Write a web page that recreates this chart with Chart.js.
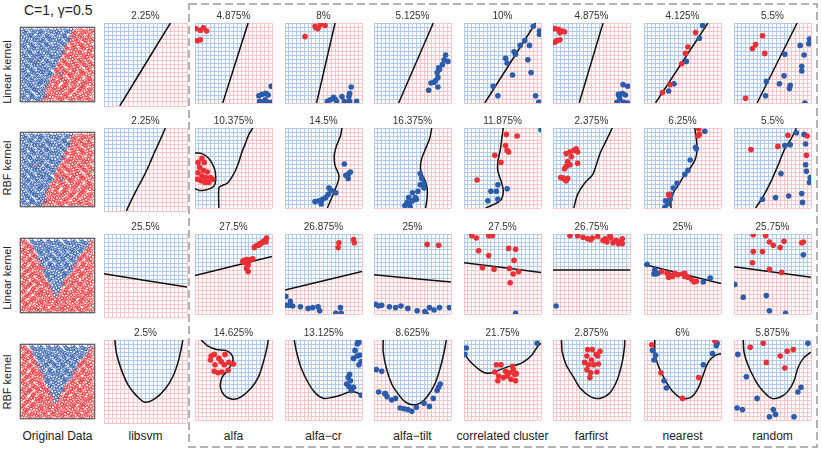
<!DOCTYPE html>
<html>
<head>
<meta charset="utf-8">
<script src="https://cdn.jsdelivr.net/npm/chart.js@4.4.1/dist/chart.umd.min.js"></script>
<style>
  body { margin: 0; width: 822px; height: 449px; position: relative; overflow: hidden; background: #fff;
         font-family: "Liberation Sans", Arial, Helvetica, sans-serif; color: #222; }
  .lbl { position: absolute; font-size: 12px; transform: translateX(-50%); white-space: nowrap; }
  .rowlbl { position: absolute; font-size: 11px; transform: translate(-50%, -50%) rotate(-90deg); white-space: nowrap; }
  .head { position: absolute; left: 24px; top: 2px; font-size: 14px; white-space: nowrap; }
</style>
</head>
<body>
<svg style="position:absolute;left:0;top:0" width="822" height="449">
  <rect x="189" y="4" width="628" height="443" fill="none" stroke="#9a9a9a" stroke-width="1.5" stroke-dasharray="8 4"/>
</svg>
<div class="head">C=1, &gamma;=0.5</div>
<script>
// ==========================================
// DATA (all coordinates in 0..100 panel units)
// ==========================================
const methods = ['libsvm', 'alfa', 'alfa\u2212cr', 'alfa\u2212tilt', 'correlated cluster', 'farfirst', 'nearest', 'random'];
const rowNames = ['Linear kernel', 'RBF kernel', 'Linear kernel', 'RBF kernel'];

// error rates (%) per row, one per method
const errRow1 = [2.25, 4.875, 8, 5.125, 10, 4.875, 4.125, 5.5];
const errRow2 = [2.25, 10.375, 14.5, 16.375, 11.875, 2.375, 6.25, 5.5];
const errRow3 = [25.5, 27.5, 26.875, 25, 27.5, 26.75, 25, 25.75];
const errRow4 = [2.5, 14.625, 13.125, 8.625, 21.75, 2.875, 6, 5.875];

// original data: linearly split set (rows 1-2)
const origLinBlue = '2,4 9,1 13,5 20,2 24,4 4,9 7,6 15,10 18,7 26,9 29,6 3,13 9,15 14,12 20,16 25,14 31,12 ' +
  '2,20 8,18 13,21 19,17 24,20 30,18 4,24 9,27 15,23 18,26 26,24 31,27 35,23 3,30 8,32 14,29 20,31 25,28 29,32 36,29 ' +
  '2,35 9,37 13,34 19,38 24,35 30,37 37,34 41,38 4,42 7,40 15,43 18,39 26,42 31,40 35,43 40,39 ' +
  '3,46 9,48 14,45 20,49 25,46 30,48 36,45 42,49 46,46 2,53 8,51 13,54 19,50 24,53 31,51 37,54 41,50 47,53 ' +
  '4,57 9,59 15,56 18,60 26,57 29,59 35,56 42,60 48,57 51,59 3,64 8,62 14,65 20,61 25,64 30,62 36,65 41,61 47,64 53,62 ' +
  '2,68 9,70 13,67 19,71 24,68 31,70 37,67 40,71 46,68 52,70 58,67 4,75 7,73 15,76 18,72 26,75 29,73 36,76 42,72 48,75 51,73 59,76 ' +
  '3,79 8,81 14,78 20,82 25,79 30,81 35,78 41,82 47,79 53,81 57,78 63,82 2,86 9,84 13,87 19,83 24,86 31,84 37,87 40,83 46,86 52,84 58,87 64,83 ' +
  '4,90 7,92 15,89 18,93 26,90 29,92 36,89 42,93 48,90 51,92 59,89 62,93 3,97 8,95 14,98 20,94 25,97 30,95 36,98 41,94 47,97 53,95 57,98 64,94 68,97 ' +
  '34,8 55,38 ' +
  '5,6 12,4 16,7 22,5 27,4 6,10 10,12 17,9 23,12 28,11 5,17 11,15 16,18 22,16 28,17 32,15 6,21 12,23 17,20 21,22 27,24 33,21 ' +
  '5,28 10,26 16,29 23,27 28,26 32,29 37,27 6,33 11,35 17,32 22,34 27,31 34,33 39,35 5,39 12,37 16,40 23,38 28,40 33,37 38,39 43,37 ' +
  '6,43 10,45 17,44 22,42 27,45 32,43 39,44 44,46 5,50 11,48 16,51 23,49 28,50 33,48 38,51 45,49 ' +
  '6,54 12,56 17,55 21,53 27,56 34,54 39,55 44,53 49,56 5,61 10,59 16,62 22,60 28,61 33,59 38,62 44,60 50,61 ' +
  '6,65 11,67 17,66 23,64 27,67 32,65 39,66 43,64 50,67 55,65 5,72 12,70 16,73 22,71 28,72 33,70 38,73 45,71 49,72 56,70 ' +
  '6,76 10,78 17,77 21,75 27,78 34,76 39,77 44,75 50,78 55,76 60,77 5,83 11,81 16,84 23,82 28,83 32,81 38,84 44,82 49,83 55,81 61,84 ' +
  '6,87 12,89 17,88 22,86 27,89 33,87 39,88 43,86 50,89 56,87 60,88 66,86 5,94 10,92 16,95 23,93 28,94 34,92 38,95 45,93 49,94 55,92 61,95 67,93';
const origLinRed = '31,1 35,5 42,3 46,1 53,4 57,2 64,5 68,1 75,3 79,5 86,2 92,4 97,1 37,10 40,7 48,9 51,6 59,10 62,8 70,6 73,10 81,7 84,9 90,6 98,8 ' +
  '35,16 42,13 46,15 53,12 57,16 64,13 68,15 75,12 79,16 86,14 91,12 96,15 36,21 41,18 47,20 52,17 58,21 63,19 69,17 74,21 80,18 85,20 92,17 97,21 ' +
  '40,26 48,24 51,27 59,23 62,26 70,24 73,27 81,23 84,25 90,27 98,24 42,31 46,28 53,32 57,30 63,28 69,32 75,29 80,31 86,28 91,32 96,30 ' +
  '47,35 52,37 58,34 64,38 68,35 74,37 79,34 85,38 92,35 97,37 48,41 51,43 59,40 63,42 70,39 73,43 81,41 84,39 90,42 98,40 ' +
  '53,48 57,45 64,49 68,46 75,48 80,45 86,49 91,46 96,48 52,51 58,54 63,50 69,53 74,51 79,54 85,50 92,53 97,51 ' +
  '59,56 62,60 70,57 73,59 81,56 84,60 90,57 98,59 57,65 64,61 68,64 75,62 80,65 86,61 91,64 96,62 ' +
  '63,71 69,68 74,70 79,67 85,71 92,68 97,70 62,72 70,75 73,73 81,76 84,72 90,75 98,73 69,79 75,81 80,78 86,82 91,79 96,81 ' +
  '68,86 74,84 79,87 85,83 92,86 97,84 70,90 73,92 81,89 84,93 90,90 98,92 75,95 80,98 86,94 91,97 96,95 22,55 ' +
  '33,6 39,3 44,7 50,5 56,4 60,7 67,5 71,3 78,6 82,4 88,6 94,3 34,9 39,12 45,10 49,12 55,9 61,11 66,12 72,10 77,9 83,12 88,10 93,11 ' +
  '38,18 44,16 50,17 55,15 60,18 67,16 71,17 78,15 82,18 89,16 94,17 39,23 43,21 49,22 56,20 61,23 66,22 72,20 77,23 83,21 87,22 93,24 ' +
  '44,28 50,26 54,29 60,27 67,28 71,26 76,29 83,27 88,26 94,28 45,32 49,34 55,33 61,31 66,35 72,33 77,32 82,34 89,33 93,31 ' +
  '50,40 55,38 60,39 66,37 71,40 78,38 82,39 88,37 94,40 49,43 56,44 61,42 67,45 72,43 76,44 83,42 89,45 93,43 ' +
  '51,50 55,48 60,51 66,49 71,50 77,48 82,51 88,49 94,50 56,55 61,53 66,56 72,54 78,55 83,53 87,56 93,54 ' +
  '55,59 61,62 67,60 71,61 77,59 82,62 89,60 94,61 60,66 66,64 72,67 76,65 83,66 88,64 93,67 61,73 67,71 71,72 78,70 82,73 89,71 94,72 ' +
  '66,78 72,76 77,77 83,75 87,78 93,76 67,82 71,83 77,81 82,84 88,82 94,83 72,89 76,87 83,88 89,86 93,89 71,94 78,92 82,95 88,93 94,94';

// original data: V-shaped set (rows 3-4)
const origVBlue = '46,24 48,29 51,31 41,34 47,37 52,35 42,43 46,40 53,42 57,39 37,49 40,45 48,48 51,46 59,49 ' +
  '36,50 41,53 47,51 52,54 58,50 63,53 35,56 42,60 46,57 53,59 57,56 64,60 68,57 29,64 37,61 40,65 48,62 51,64 59,61 62,65 70,62 ' +
  '30,68 36,71 41,67 47,70 52,68 58,71 63,67 69,70 74,68 24,73 31,75 35,72 42,76 46,73 53,75 57,72 64,76 68,73 75,75 ' +
  '26,81 29,79 37,82 40,78 48,81 51,79 59,82 62,78 70,81 73,79 81,82 19,87 25,84 30,86 36,83 41,87 47,84 52,86 58,83 63,87 69,84 74,86 80,83 85,87 ' +
  '20,93 24,90 31,92 35,89 42,93 46,90 53,92 57,89 64,93 68,90 75,92 79,89 86,93 90,90 ' +
  '15,98 18,94 26,97 29,95 37,98 40,94 48,97 51,95 59,98 62,94 70,97 73,95 81,98 84,94 92,97 ' +
  '50,26 45,32 49,34 43,37 50,40 55,38 39,44 44,46 49,43 56,44 38,51 45,49 51,50 55,48 60,51 ' +
  '34,54 39,55 44,53 49,56 56,55 61,53 66,56 33,59 38,62 44,60 50,61 55,59 61,62 67,60 ' +
  '32,65 39,66 43,64 50,67 55,65 60,66 66,64 72,67 28,72 33,70 38,73 45,71 49,72 56,70 61,73 67,71 71,72 ' +
  '27,78 34,76 39,77 44,75 50,78 55,76 60,77 66,78 72,76 77,77 23,82 28,83 32,81 38,84 44,82 49,83 55,81 61,84 67,82 71,83 77,81 82,84 ' +
  '22,86 27,89 33,87 39,88 43,86 50,89 56,87 60,88 66,86 72,89 76,87 83,88 ' +
  '16,95 23,93 28,94 34,92 38,95 45,93 49,94 55,92 61,95 67,93 71,94 78,92 82,95 88,93';
const origVRed = '3,2 8,5 14,1 19,4 25,2 30,5 36,1 41,4 47,2 52,5 58,1 63,4 69,2 74,5 80,1 85,4 91,2 96,5 ' +
  '2,7 9,10 13,6 20,9 24,7 31,10 35,6 42,9 46,7 53,10 57,6 64,9 68,7 75,10 79,6 86,9 90,7 97,10 ' +
  '4,15 7,12 15,14 18,16 26,13 29,15 37,12 40,16 48,13 51,15 59,12 62,16 70,13 73,15 81,12 84,16 92,13 98,15 ' +
  '3,18 8,21 14,17 19,20 25,18 30,21 36,17 41,20 47,18 52,21 58,17 63,20 69,18 74,21 80,17 85,20 91,18 96,21 ' +
  '2,26 9,23 13,25 20,27 24,24 31,26 35,23 42,27 53,26 57,23 64,27 68,24 75,26 79,23 86,27 90,24 97,26 ' +
  '4,29 7,31 15,28 18,32 26,29 29,31 37,28 40,32 59,28 62,32 70,29 73,31 81,28 84,32 92,29 98,31 ' +
  '3,37 8,35 14,38 19,34 25,37 30,35 36,38 58,38 63,34 69,37 74,35 80,38 85,34 91,37 96,35 ' +
  '2,40 9,42 13,39 20,43 24,40 31,42 35,39 64,43 68,40 75,42 79,39 86,43 90,40 97,42 ' +
  '4,48 7,46 15,49 18,45 26,48 29,46 62,45 70,48 73,46 81,49 84,45 92,48 98,46 3,51 8,54 14,50 19,53 25,51 30,54 69,51 74,54 80,50 85,53 91,51 96,54 ' +
  '2,59 9,56 13,58 20,60 24,57 31,59 75,59 79,56 86,60 90,57 97,59 4,62 7,64 15,61 18,65 26,62 73,64 81,61 84,65 92,62 98,64 ' +
  '3,70 8,68 14,71 19,67 25,70 80,71 85,67 91,70 96,68 2,73 9,75 13,72 20,76 79,72 86,76 90,73 97,75 ' +
  '4,81 7,79 15,82 18,78 84,78 92,81 98,79 3,84 8,86 14,83 91,84 96,86 2,92 9,90 13,89 97,92 4,97 7,95 98,95 ' +
  '5,6 12,4 16,7 22,5 27,4 33,6 39,3 44,7 50,5 56,4 60,7 67,5 71,3 78,6 82,4 88,6 94,3 ' +
  '6,10 10,12 17,9 23,12 28,11 34,9 39,12 45,10 49,12 55,9 61,11 66,12 72,10 77,9 83,12 88,10 93,11 ' +
  '5,17 11,15 16,18 22,16 28,17 32,15 38,18 44,16 50,17 55,15 60,18 67,16 71,17 78,15 82,18 89,16 94,17 ' +
  '6,21 12,23 17,20 21,22 27,24 33,21 39,23 43,21 49,22 56,20 61,23 66,22 72,20 77,23 83,21 87,22 93,24 ' +
  '5,28 10,26 16,29 23,27 28,26 32,29 37,27 44,28 54,29 60,27 67,28 71,26 76,29 83,27 88,26 94,28 ' +
  '6,33 11,35 17,32 22,34 27,31 34,33 39,35 55,33 61,31 66,35 72,33 77,32 82,34 89,33 93,31 ' +
  '5,39 12,37 16,40 23,38 28,40 33,37 38,39 60,39 66,37 71,40 78,38 82,39 88,37 94,40 ' +
  '6,43 10,45 17,44 22,42 27,45 32,43 61,42 67,45 72,43 76,44 83,42 89,45 93,43 ' +
  '5,50 11,48 16,51 23,49 28,50 33,48 66,49 71,50 77,48 82,51 88,49 94,50 6,54 12,56 17,55 21,53 27,56 72,54 78,55 83,53 87,56 93,54 ' +
  '5,61 10,59 16,62 22,60 28,61 71,61 77,59 82,62 89,60 94,61 6,65 11,67 17,66 23,64 27,67 76,65 83,66 88,64 93,67 ' +
  '5,72 12,70 16,73 22,71 78,70 82,73 89,71 94,72 6,76 10,78 17,77 21,75 83,75 87,78 93,76 ' +
  '5,83 11,81 16,84 88,82 94,83 6,87 12,89 17,88 89,86 93,89 5,94 10,92 94,94';

// row 1: linear kernel on linear data
const r1Bounds = ['19,0 80,100', '36,0 69,100', '41,0 65,100', '32,0 77,100', '27,0 93,100', '34,0 65,100', '15,0 83,100', '30,0 82,100'];
const r1Close = ['0,100 0,0', '0,100 0,0', '0,100 0,0', '0,100 0,0', '0,100 0,0', '0,100 0,0', '0,100 0,0', '0,100 0,0'];
const r1Red = ['', '1,93 7,91 11,94 15,90 3,78 7,79', '26,83 40,94 43,93 46,98 52,97 39,96', '', '',
  '2,93 7,92 12,90 5,78 2,76 9,79 15,89 9,88', '67,88 57,70 54,62 49,49 34,23 24,13', '37,84 28,73 24,68 40,62 15,6'];
const r1Blue = ['', '83,9 87,11 92,12 95,10 99,21 84,2 89,1 94,1 99,1 91,4',
  '55,2 63,7 65,5 74,8 77,2 83,8 84,12 86,20 84,2 93,2 67,2 59,4',
  '71,16 74,25 78,26 83,32 82,38 84,44 89,48 91,54 85,42 80,28 83,20 96,52 93,60',
  '44,9 38,21 56,50 63,35 67,61 73,72 79,78 85,72 87,38 90,96 98,90 98,86 93,9 97,1 54,56 83,54 65,64',
  '91,23 97,21 90,12 94,10 86,8 83,1 92,1 97,0 87,4 85,11', '76,97 72,81 55,52 39,24 32,15',
  '98,80 97,74 86,72 91,60 66,61 88,46 88,40 65,34 59,24 73,22 72,18 42,27 41,9 92,0'];

// row 2: RBF kernel on linear data
const r2Bounds = ['27,0 32,11 40,27 48,42 55,57 61,71 67,84 74,100',
  '31,0 31,25 35,28 42,31 50,42 56,55 61,70 66,82 70,92 75,100',
  '55,0 59,9 64,21 69,33 70,41 65,53 64,66 67,78 72,90 74,100',
  '67,0 69,13 69,25 66,35 61,45 61,58 66,72 72,86 75,100',
  '28,0 47,9 51,21 48,34 44,46 44,58 47,72 49,86 51,100',
  '27,0 32,17 41,31 51,41 56,53 61,68 68,82 77,100',
  '35,0 35,9 38,19 45,29 53,42 60,50 67,62 69,74 68,86 66,100',
  '28,0 37,13 47,31 57,53 66,74 74,86 81,100'];
const r2Close = r1Close;
const r2Loops = ['', '0,69 9,68 18,62 25,50 27,38 25,28 16,23 6,22 0,24', '', '', '', '', '', ''];
const r2Red = ['', '4,57 9,62 12,57 6,51 11,47 16,45 4,44 9,40 14,38 20,38 23,36 8,34 13,32 18,32 3,36', '', '',
  '55,92 69,90 54,78 56,72 58,70 48,57 40,66 17,35',
  '17,68 22,70 27,72 30,74 32,70 24,64 19,58 17,52 15,49 12,38 15,36 19,37 17,34 22,54 32,56 10,38',
  '71,99 72,92 70,90 32,17 33,15', '22,73 57,77 70,91 95,90 94,66'];
const r2Blue = ['', '', '39,8 44,9 49,11 47,5 53,13 56,17 57,25 60,22 66,19 77,55 83,43 82,37 85,45 79,41',
  '43,7 46,5 50,9 54,13 57,21 60,29 62,37 65,25 60,43 50,19 40,3 47,1 45,13 55,11 65,31',
  '44,29 42,21 44,11 35,21 31,9 56,24 100,98', '',
  '79,96 67,76 68,74 60,60 57,47 53,42 43,31 38,25 34,11 28,9 31,5 27,1 35,17',
  '66,78 73,79 81,94 91,92 93,80 93,54 94,46 99,38 98,32 71,15 54,13 89,7 37,11 61,43 88,18'];

// row 3: linear kernel on V data
const r3Bounds = ['0,52 100,36', '0,48 100,72', '0,30 100,53', '0,49 100,40', '0,64 100,52', '0,55 100,55', '0,62 100,38', '0,59 100,46'];
const r3Close = ['100,100 0,100', '100,100 0,100', '100,100 0,100', '100,100 0,100', '100,100 0,100', '100,100 0,100', '100,100 0,100', '100,100 0,100'];
const r3Red = ['', '64,67 67,68 70,66 62,66 65,64 72,68 75,69 69,61 67,57 69,53 79,85 82,86 84,88 87,89 89,91 92,93 93,95 77,83 84,87 92,90',
  '70,89 69,83 89,93 90,89', '69,87 84,86',
  '10,98 16,95 32,98 37,98 19,79 32,73 58,82 67,81 65,67 24,58 39,56 59,57 71,53 64,50 60,39',
  '22,98 32,98 39,96 45,94 51,95 58,97 65,92 70,90 74,98 78,89 82,92 86,90 90,94 75,95 85,88 68,94 90,88 49,93',
  '23,53 30,51 33,49 37,47 40,51 44,49 50,50 53,47 57,46 62,43 65,40 68,41 53,51 32,46',
  '25,99 41,98 46,90 51,86 65,91 88,89 90,90 25,78 37,78 60,83 46,56 62,52 24,64'];
const r3Blue = ['', '', '1,22 1,11 7,16 10,10 20,9 30,7 36,8 43,9 45,4 66,1 72,8 73,1 6,11',
  '2,12 6,10 10,11 20,9 28,8 35,10 44,7 56,4 66,3 72,8 78,5 85,8 98,8 68,0', '67,1', '4,10',
  '4,62 14,55 16,50 77,40 86,45 13,50 18,51', '90,74 1,37 12,21 42,23 46,4 67,1'];

// row 4: RBF kernel on V data
const r4Bounds = ['13,100 15,84 21,64 29,46 39,33 49,25 61,29 73,40 83,56 90,76 95,100',
  '8,100 16,93 28,88 40,87 48,81 49,73 43,63 35,53 33,41 38,31 49,26 60,29 72,39 82,53 89,73 94,93 95,100',
  '12,100 15,85 21,65 31,45 40,33 50,27 60,28 72,31 84,35 94,34 100,29',
  '12,100 12,85 16,65 23,45 31,33 40,23 50,19 60,21 69,29 79,45 86,65 91,85 94,100',
  '0,83 8,73 17,65 27,59 37,59 47,63 59,67 69,69 78,73 88,81 95,91 100,96',
  '11,100 12,85 17,69 27,53 36,39 49,29 61,27 73,33 83,49 90,73 93,93 93,100',
  '14,100 14,85 18,69 28,49 38,35 50,27 62,29 71,41 77,57 84,73 93,81 100,83',
  '12,100 13,85 18,69 28,49 37,37 49,27 61,29 71,37 78,49 83,65 90,77 100,85'];
const r4Close = ['', '', '100,100', '', '100,100 0,100', '', '100,100', '100,100'];
const r4Red = ['', '21,80 25,82 31,77 34,73 39,82 44,72 50,70 26,69 35,60 43,62 25,61 30,59 20,75 38,69', '', '',
  '42,69 48,69 54,61 59,59 64,63 66,57 68,58 56,55 51,53 61,51 44,49 67,49 45,55 40,60 63,67',
  '45,88 51,88 56,82 58,80 44,80 50,75 41,72 46,69 53,69 59,70 44,63 49,59 57,60 48,53 61,86',
  '10,94 22,59 50,27 71,53 92,99', '21,91 38,96 42,72 60,80 69,86 77,88 66,65'];
const r4Blue = ['', '', '95,99 96,97 94,95 91,87 97,81 94,80 89,77 99,73 96,69 84,57 82,53 85,49 80,45 83,42 86,37 99,31 89,41',
  '3,63 10,61 6,35 14,33 17,29 23,25 28,27 34,15 39,14 44,13 49,11 55,16 65,21 72,17 77,27 82,37 84,41 86,45 15,33',
  '3,90 1,82 95,96', '', '11,87 13,75 26,49 29,40 95,96 94,93 89,83 77,69 15,81',
  '96,96 5,82 16,54 30,27 51,13 54,7 46,4 78,4 83,35 87,41 4,15 11,13'];

// ==========================================
// LAYOUT + STYLE
// ==========================================
const colX = [16, 104, 192, 282, 371, 461, 550, 641, 731];
const rowY = [23, 128, 234, 340];
const SIZE = 83;
const TITLE_H = 15;
const FONT = "'Liberation Sans', Arial, Helvetica, sans-serif";
const BLUE = '#2b5bab', RED = '#ea3035';
const BLUE_GRID = '#b3cbeb', RED_GRID = '#f8c6c8';

const rows = [
  { err: errRow1, bounds: r1Bounds, close: r1Close, red: r1Red, blue: r1Blue, orig: [origLinBlue, origLinRed] },
  { err: errRow2, bounds: r2Bounds, close: r2Close, red: r2Red, blue: r2Blue, loops: r2Loops, orig: [origLinBlue, origLinRed] },
  { err: errRow3, bounds: r3Bounds, close: r3Close, red: r3Red, blue: r3Blue, orig: [origVBlue, origVRed] },
  { err: errRow4, bounds: r4Bounds, close: r4Close, red: r4Red, blue: r4Blue, orig: [origVBlue, origVRed] },
];

function pts(s) {
  if (!s) return [];
  return s.trim().split(/\s+/).map(p => {
    const [x, y] = p.split(',').map(Number);
    return { x, y };
  });
}

function makeCanvas(left, top, w, h) {
  const c = document.createElement('canvas');
  c.width = w; c.height = h;
  c.style.cssText = `position:absolute;left:${left}px;top:${top}px;width:${w}px;height:${h}px`;
  document.body.appendChild(c);
  return c;
}

// white fill with grid lines at the same pixels as the scale grid
function gridPattern(chart, color) {
  const a = chart.chartArea;
  const xs = chart.scales.x, ys = chart.scales.y;
  if (!a || !xs || !xs.ticks || !xs.ticks.length) return 'rgba(0,0,0,0)';
  const c = document.createElement('canvas');
  c.width = chart.width; c.height = chart.height;
  const g = c.getContext('2d');
  g.fillStyle = '#fff';
  g.fillRect(0, 0, c.width, c.height);
  g.strokeStyle = color;
  g.lineWidth = 1;
  g.beginPath();
  xs.ticks.forEach(t => {
    const p = Math.round(xs.getPixelForValue(t.value) - 0.5) + 0.5;
    g.moveTo(p, a.top); g.lineTo(p, a.bottom);
  });
  ys.ticks.forEach(t => {
    const p = Math.round(ys.getPixelForValue(t.value) - 0.5) + 0.5;
    g.moveTo(a.left, p); g.lineTo(a.right, p);
  });
  g.stroke();
  return chart.ctx.createPattern(c, 'no-repeat');
}

function axis(showGrid) {
  return {
    type: 'linear', min: 0, max: 100, display: true,
    ticks: { display: false, stepSize: 5 },
    grid: { display: showGrid, color: RED_GRID, lineWidth: 1, drawTicks: false },
    border: { display: false },
    afterFit: s => { if (s.isHorizontal()) s.height = 0; else s.width = 0; }
  };
}

const frame = {
  id: 'frame',
  afterDatasetsDraw(chart) {
    const { ctx, chartArea: a } = chart;
    ctx.save();
    ctx.strokeStyle = '#5a5a5a';
    ctx.lineWidth = 1.2;
    ctx.strokeRect(a.left + 0.5, a.top + 0.5, a.width - 1, a.height - 1);
    ctx.restore();
  }
};

function regionSet(data, color, order) {
  return { data, showLine: true, fill: 'shape', tension: 0, pointRadius: 0,
    borderWidth: 0, borderColor: 'rgba(0,0,0,0)',
    backgroundColor: ctx => gridPattern(ctx.chart, color), order };
}
function lineSet(data) {
  return { data, showLine: true, fill: false, tension: 0.3, pointRadius: 0,
    borderColor: '#111', borderWidth: 1.5, order: 2 };
}
function dotSet(data, color) {
  return { data, showLine: false, pointRadius: 2.8, pointBorderWidth: 0,
    backgroundColor: color, borderColor: color, order: 1 };
}

// ==========================================
// ORIGINAL DATA PANELS
// ==========================================
rows.forEach((row, r) => {
  const canvas = makeCanvas(colX[0] - 1, rowY[r] - 1, SIZE + 2, SIZE + 2);
  new Chart(canvas, {
    type: 'scatter',
    data: {
      datasets: [
        { data: pts(row.orig[0]), pointRadius: 1.6, borderWidth: 0.8, borderColor: BLUE, backgroundColor: 'rgba(255,255,255,0)' },
        { data: pts(row.orig[1]), pointRadius: 1.6, borderWidth: 0.8, borderColor: RED, backgroundColor: 'rgba(255,255,255,0)' }
      ]
    },
    options: {
      responsive: false, animation: false, events: [], devicePixelRatio: 1,
      layout: { padding: 1 },
      scales: { x: axis(false), y: axis(false) },
      plugins: { legend: { display: false }, tooltip: { enabled: false } }
    },
    plugins: [frame]
  });
});

// ==========================================
// CLASSIFIER PANELS
// ==========================================
rows.forEach((row, r) => {
  methods.forEach((m, i) => {
    const canvas = makeCanvas(colX[i + 1] - 1, rowY[r] - TITLE_H, SIZE + 2, SIZE + TITLE_H + 1);
    const bound = pts(row.bounds[i]);
    const datasets = [regionSet(bound.concat(pts(row.close[i])), BLUE_GRID, 10)];
    if (row.loops && row.loops[i]) {
      const loop = pts(row.loops[i]);
      datasets.push(regionSet(loop, RED_GRID, 9));
      datasets.push(lineSet(loop));
    }
    datasets.push(lineSet(bound));
    datasets.push(dotSet(pts(row.red[i]), RED));
    datasets.push(dotSet(pts(row.blue[i]), BLUE));
    new Chart(canvas, {
      type: 'scatter',
      data: { datasets },
      options: {
        responsive: false, animation: false, events: [], devicePixelRatio: 1,
        layout: { padding: { left: 1, right: 1, top: 0, bottom: 1 } },
        scales: { x: axis(true), y: axis(true) },
        plugins: {
          legend: { display: false }, tooltip: { enabled: false },
          title: { display: true, text: row.err[i] + '%', color: '#333',
                   font: { family: FONT, size: 10, weight: 'normal', lineHeight: 1 },
                   padding: { top: 3, bottom: 2 } }
        }
      }
    });
  });
});

// ==========================================
// TEXT LABELS
// ==========================================
['Original Data'].concat(methods).forEach((t, i) => {
  const d = document.createElement('div');
  d.className = 'lbl';
  d.textContent = t;
  d.style.left = (colX[i] + SIZE / 2) + 'px';
  d.style.top = '429px';
  document.body.appendChild(d);
});
const rowLabelY = [72, 168, 278, 382];
rowNames.forEach((t, r) => {
  const d = document.createElement('div');
  d.className = 'rowlbl';
  d.textContent = t;
  d.style.left = '7px';
  d.style.top = rowLabelY[r] + 'px';
  document.body.appendChild(d);
});
</script>
</body>
</html>
